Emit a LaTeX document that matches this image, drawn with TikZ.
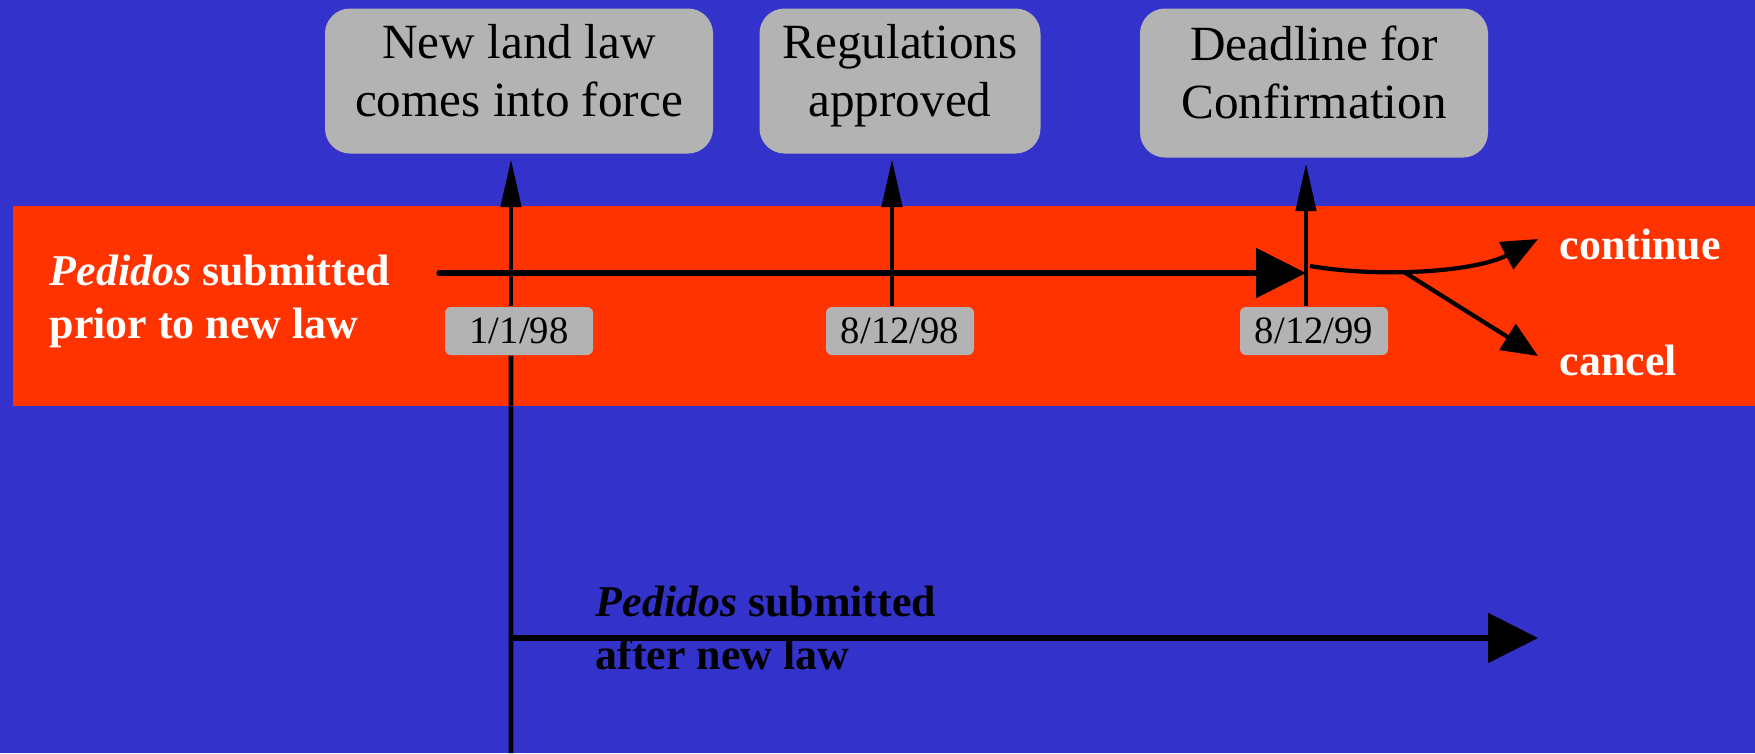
\documentclass[tikz,border=0pt]{standalone}
\usepackage{fontspec}
\setmainfont{Liberation Serif}
\usepackage{tikz}
\usetikzlibrary{arrows.meta,positioning}
\definecolor{bgblue}{HTML}{3333CC}
\definecolor{band}{HTML}{FF3300}
\definecolor{box}{HTML}{B3B3B3}
\tikzset{
  milestone/.style={fill=box, rounded corners=0.25cm, align=center, inner sep=0pt, minimum height=1.45cm, text depth=6pt, font=\fontsize{14}{16.5}\selectfont},
  datebox/.style={fill=box, rounded corners=0.06cm, inner sep=0pt, minimum width=1.48cm, minimum height=0.48cm, font=\fontsize{11}{13}\selectfont},
  tick/.style={draw=black, line width=1.3pt, shorten >=0.05cm, -{Triangle[length=0.48cm,width=0.2cm]}},
  stem/.style={draw=black, line width=1.3pt},
  flow/.style={draw=black, line width=1.5pt, -{Triangle[length=0.5cm,width=0.49cm]}},
  branch/.style={draw=black, line width=1.2pt, -{Triangle[length=0.36cm,width=0.3cm]}},
  lab/.style={font=\bfseries\fontsize{12.5}{15}\selectfont, align=left, inner sep=0pt},
}
\begin{document}
\begin{tikzpicture}
  \fill[bgblue] (0,0) rectangle (17.55,-7.53);
  \useasboundingbox (0,0) rectangle (17.55,-7.53);
  \fill[band] (0.13,-2.06) rectangle (17.55,-4.06);

  % milestones and dates
  \node[milestone, minimum width=3.88cm] (m1) at (5.19,-0.81) {New land law\\comes into force};
  \node[milestone, minimum width=2.81cm] (m2) at (9.00,-0.81) {Regulations\\approved};
  \node[milestone, minimum width=3.48cm, minimum height=1.49cm] (m3) at (13.14,-0.83) {Deadline for\\Confirmation};

  \node[datebox] (d1) at (5.19,-3.31) {1/1/98};
  \node[datebox] (d2) at (9.00,-3.31) {8/12/98};
  \node[datebox] (d3) at (13.14,-3.31) {8/12/99};

  \draw[tick] ([xshift=-0.08cm]d1.north) -- ([xshift=-0.08cm]m1.south);
  \draw[tick] ([xshift=-0.08cm]d2.north) -- ([xshift=-0.08cm]m2.south);
  \draw[tick] ([xshift=-0.08cm]d3.north) -- ([xshift=-0.08cm]m3.south);
  \coordinate (low) at (5.11,-7.53);
  \draw[stem] (low) -- ([xshift=-0.08cm]d1.south);

  % pedidos before the law
  \coordinate (prior) at (4.39,-2.73);
  \coordinate (due) at (13.06,-2.73);
  \draw[flow, line cap=round] (prior) -- (due);
  \node[lab, text=white, anchor=base west] (prior-lab) at (0.49,-3.38) {\textit{Pedidos} submitted\\prior to new law};

  \coordinate (split) at (13.10,-2.66);
  \coordinate (fork) at (14.04,-2.72);
  \coordinate (cont) at (15.38,-2.39);
  \coordinate (canc) at (15.38,-3.56);
  \draw[branch] (split) .. controls (13.8,-2.78) and (14.75,-2.72) .. (cont);
  \draw[branch] (fork) -- (canc);
  \node[lab, text=white, anchor=base west] (cont-lab) at (15.59,-2.59) {continue};
  \node[lab, text=white, anchor=base west] (canc-lab) at (15.59,-3.75) {cancel};

  % pedidos after the law
  \coordinate (after) at (5.11,-6.38);
  \coordinate (afterend) at (15.38,-6.38);
  \draw[flow] (after) -- (afterend);
  \node[lab, anchor=base west] (after-lab) at (5.95,-6.69) {\textit{Pedidos} submitted\\after new law};
\end{tikzpicture}
\end{document}
